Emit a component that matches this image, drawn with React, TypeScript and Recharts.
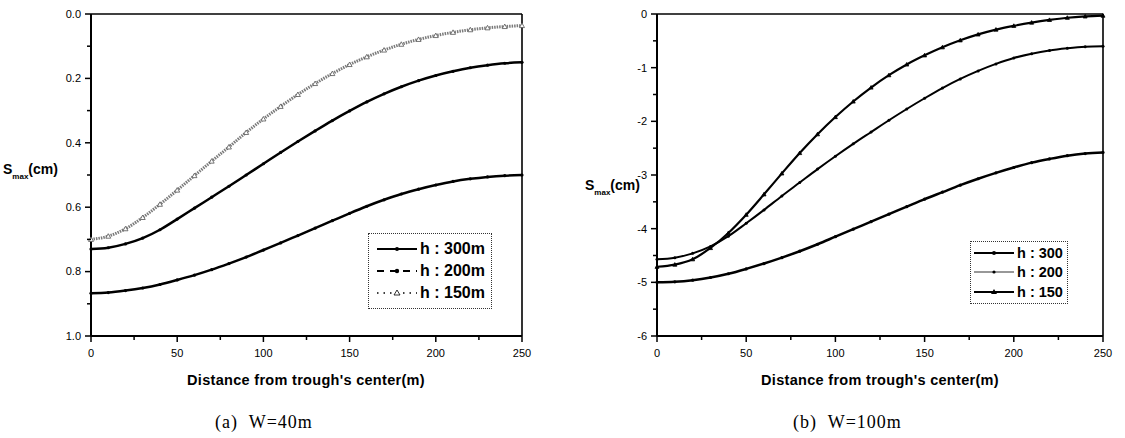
import React from "react";
import { Legend, Line, LineChart, ReferenceLine, XAxis, YAxis } from "recharts";

// distance from trough's center (m)
const DIST = [0, 10, 20, 30, 40, 50, 60, 70, 80, 90, 100, 110, 120, 130, 140, 150, 160, 170, 180, 190, 200, 210, 220, 230, 240, 250];

// (a) W=40m, S_max (cm), axis reversed
const W40_H300 = [0.867, 0.865, 0.859, 0.851, 0.84, 0.826, 0.811, 0.794, 0.775, 0.755, 0.733, 0.711, 0.688, 0.665, 0.642, 0.619, 0.597, 0.577, 0.559, 0.544, 0.531, 0.52, 0.512, 0.506, 0.502, 0.5];
const W40_H200 = [0.73, 0.726, 0.714, 0.696, 0.67, 0.637, 0.603, 0.569, 0.535, 0.5, 0.465, 0.43, 0.396, 0.363, 0.331, 0.301, 0.273, 0.248, 0.226, 0.207, 0.191, 0.178, 0.167, 0.159, 0.153, 0.15];
const W40_H150 = [0.7, 0.69, 0.667, 0.632, 0.591, 0.547, 0.502, 0.457, 0.413, 0.368, 0.326, 0.287, 0.25, 0.216, 0.185, 0.157, 0.133, 0.112, 0.094, 0.079, 0.067, 0.057, 0.049, 0.043, 0.039, 0.036];

// (b) W=100m
const W100_H300 = [-5.0, -4.99, -4.96, -4.91, -4.84, -4.75, -4.65, -4.54, -4.42, -4.29, -4.15, -4.01, -3.87, -3.73, -3.59, -3.45, -3.32, -3.19, -3.07, -2.96, -2.86, -2.77, -2.7, -2.64, -2.6, -2.58];
const W100_H200 = [-4.57, -4.54, -4.46, -4.33, -4.14, -3.9, -3.65, -3.39, -3.14, -2.89, -2.65, -2.42, -2.2, -1.98, -1.77, -1.57, -1.38, -1.21, -1.06, -0.93, -0.82, -0.74, -0.68, -0.64, -0.61, -0.6];
const W100_H150 = [-4.71, -4.67, -4.57, -4.36, -4.08, -3.74, -3.36, -2.97, -2.59, -2.24, -1.92, -1.63, -1.37, -1.14, -0.94, -0.77, -0.62, -0.49, -0.38, -0.29, -0.22, -0.16, -0.11, -0.07, -0.045, -0.03];

const X_TICKS = [0, 25, 50, 75, 100, 125, 150, 175, 200, 225, 250];
const Y_TICKS_A = [0, 0.1, 0.2, 0.3, 0.4, 0.5, 0.6, 0.7, 0.8, 0.9, 1.0];
const Y_TICKS_B = [-6, -5.5, -5, -4.5, -4, -3.5, -3, -2.5, -2, -1.5, -1, -0.5, 0];

const LEGEND_A = ["h : 300m", "h : 200m", "h : 150m"];
const LEGEND_B = ["h : 300", "h : 200", "h : 150"];

const SANS = "'Liberation Sans', Arial, sans-serif";
const TS = 6; // tick size
const TM = 3; // tick margin

const dataA = DIST.map((x, i) => ({ x, h300: W40_H300[i], h200: W40_H200[i], h150: W40_H150[i] }));
const dataB = DIST.map((x, i) => ({ x, h300: W100_H300[i], h200: W100_H200[i], h150: W100_H150[i] }));

function LeftTick({ x, y, payload, major, fmt }: any) {
  const ax = x + TS + TM;
  const v = payload.value;
  const isMajor = major(v);
  return (
    <g>
      <line x1={ax - (isMajor ? 6 : 4)} x2={ax} y1={y} y2={y} stroke="#000" strokeWidth={1.5} />
      {isMajor ? (
        <text x={ax - 10} y={y} dy="0.35em" textAnchor="end" fontSize={11} fontFamily={SANS} fill="#000">
          {fmt(v)}
        </text>
      ) : null}
    </g>
  );
}

function BottomTick({ x, y, payload }: any) {
  const ay = y - TS - TM;
  const v = payload.value;
  const isMajor = v % 50 === 0;
  return (
    <g>
      <line x1={x} x2={x} y1={ay} y2={ay + (isMajor ? 6 : 4)} stroke="#000" strokeWidth={1.5} />
      {isMajor ? (
        <text x={x} y={ay + 17} dy="0.35em" textAnchor="middle" fontSize={11} fontFamily={SANS} fill="#000">
          {v}
        </text>
      ) : null}
    </g>
  );
}

function tri(s: number, fill: string, stroke: string) {
  return (p: any) => {
    const { cx, cy, index } = p;
    if (cx == null || cy == null) return <g key={index} />;
    return (
      <path
        key={index}
        d={`M${cx},${cy - s}L${cx + s},${cy + s * 0.8}L${cx - s},${cy + s * 0.8}Z`}
        fill={fill}
        stroke={stroke}
        strokeWidth={0.8}
      />
    );
  };
}

function Sample({ kind }: { kind: string }) {
  return (
    <svg width={40} height={10} style={{ display: "block" }}>
      {kind === "solid" && (
        <>
          <line x1={0} x2={40} y1={5} y2={5} stroke="#000" strokeWidth={2} />
          <circle cx={20} cy={5} r={2} fill="#000" />
        </>
      )}
      {kind === "dash" && (
        <>
          <line x1={0} x2={40} y1={5} y2={5} stroke="#000" strokeWidth={2} strokeDasharray="7 6" />
          <circle cx={20} cy={5} r={2.2} fill="#000" />
        </>
      )}
      {kind === "dot" && (
        <>
          <line x1={0} x2={40} y1={5} y2={5} stroke="#000" strokeWidth={1.5} strokeDasharray="1.5 5" />
          <path d="M20,2L23,7L17,7Z" fill="#fff" stroke="#000" strokeWidth={0.8} />
        </>
      )}
      {kind === "thin" && (
        <>
          <line x1={0} x2={40} y1={5} y2={5} stroke="#333" strokeWidth={1.2} />
          <circle cx={20} cy={5} r={1.6} fill="#000" />
        </>
      )}
      {kind === "tri" && (
        <>
          <line x1={0} x2={40} y1={5} y2={5} stroke="#000" strokeWidth={2} />
          <path d="M20,2L23,7L17,7Z" fill="#000" />
        </>
      )}
    </svg>
  );
}

function LegendBox({ labels, kinds, rowH, fontSize, pad }: { labels: string[]; kinds: string[]; rowH: number; fontSize: number; pad: string }) {
  return (
    <div style={{ border: "1px dotted #333", background: "#fff", padding: pad }}>
      {labels.map((l, i) => (
        <div key={l} style={{ display: "flex", alignItems: "center", height: rowH }}>
          <Sample kind={kinds[i]} />
          <span style={{ fontFamily: SANS, fontWeight: "bold", fontSize, marginLeft: 3, whiteSpace: "nowrap" }}>{l}</span>
        </div>
      ))}
    </div>
  );
}

function YTitle({ left, top }: { left: number; top: number }) {
  return (
    <div style={{ position: "absolute", left, top, fontFamily: SANS, fontWeight: "bold", fontSize: 14, lineHeight: "16px", whiteSpace: "nowrap" }}>
      S<span style={{ fontSize: 8, position: "relative", top: 5 }}>max</span>(cm)
    </div>
  );
}

function XTitle({ cx, top }: { cx: number; top: number }) {
  return (
    <div
      style={{
        position: "absolute",
        left: cx - 160,
        width: 320,
        top,
        textAlign: "center",
        fontFamily: SANS,
        fontWeight: "bold",
        fontSize: 14.5,
        letterSpacing: 0.3,
        lineHeight: "17px",
      }}
    >
      Distance from trough's center(m)
    </div>
  );
}

function Caption({ left, text }: { left: number; text: string }) {
  return (
    <div style={{ position: "absolute", left, top: 412, fontFamily: "'Liberation Serif', serif", fontSize: 18, letterSpacing: 1, lineHeight: "21px", whiteSpace: "pre" }}>
      {text}
    </div>
  );
}

const frame = { stroke: "#000", strokeWidth: 2 };

export default function App() {
  return (
    <div style={{ position: "absolute", left: 0, top: 0, width: 1125, height: 438, background: "#fff", overflow: "hidden" }}>
      <div style={{ position: "absolute", left: 0, top: 0 }}>
        <LineChart width={540} height={400} data={dataA} margin={{ top: 14, right: 18, left: 51, bottom: 34 }}>
          <XAxis dataKey="x" type="number" domain={[0, 250]} ticks={X_TICKS} interval={0} tick={<BottomTick />} tickLine={false} tickSize={TS} tickMargin={TM} axisLine={frame} height={30} />
          <YAxis
            type="number"
            domain={[0, 1]}
            reversed
            ticks={Y_TICKS_A}
            interval={0}
            tick={<LeftTick major={(v: number) => Math.round(v * 10) % 2 === 0} fmt={(v: number) => v.toFixed(1)} />}
            tickLine={false}
            tickSize={TS}
            tickMargin={TM}
            axisLine={frame}
            width={40}
          />
          <ReferenceLine y={0} stroke="#000" strokeWidth={1.6} />
          <ReferenceLine x={250} stroke="#000" strokeWidth={1.6} />
          <Legend
            layout="vertical"
            align="center"
            verticalAlign="middle"
            wrapperStyle={{ left: 368, top: 233, width: "auto" }}
            content={() => <LegendBox labels={LEGEND_A} kinds={["solid", "dash", "dot"]} rowH={22} fontSize={16} pad="4px 6px 4px 8px" />}
          />
          <Line type="monotone" dataKey="h150" stroke="#7a7a7a" strokeWidth={3} strokeDasharray="1.5 1" dot={tri(2.5, "#fff", "#555")} isAnimationActive={false} />
          <Line type="monotone" dataKey="h200" stroke="#000" strokeWidth={2.5} dot={{ r: 1.6, fill: "#000", stroke: "none" }} isAnimationActive={false} />
          <Line type="monotone" dataKey="h300" stroke="#000" strokeWidth={2.5} dot={{ r: 1.6, fill: "#000", stroke: "none" }} isAnimationActive={false} />
        </LineChart>
      </div>

      <div style={{ position: "absolute", left: 560, top: 0 }}>
        <LineChart width={565} height={400} data={dataB} margin={{ top: 14, right: 22, left: 57, bottom: 34 }}>
          <XAxis dataKey="x" type="number" domain={[0, 250]} ticks={X_TICKS} interval={0} tick={<BottomTick />} tickLine={false} tickSize={TS} tickMargin={TM} axisLine={frame} height={30} />
          <YAxis
            type="number"
            domain={[-6, 0]}
            ticks={Y_TICKS_B}
            interval={0}
            tick={<LeftTick major={(v: number) => Number.isInteger(v)} fmt={(v: number) => String(v)} />}
            tickLine={false}
            tickSize={TS}
            tickMargin={TM}
            axisLine={frame}
            width={40}
          />
          <ReferenceLine y={0} stroke="#000" strokeWidth={1.6} />
          <ReferenceLine x={250} stroke="#000" strokeWidth={1.6} />
          <Legend
            layout="vertical"
            align="center"
            verticalAlign="middle"
            wrapperStyle={{ left: 410, top: 241, width: "auto" }}
            content={() => <LegendBox labels={LEGEND_B} kinds={["solid", "thin", "tri"]} rowH={19.5} fontSize={14.5} pad="1px 4px 1px 3px" />}
          />
          <Line type="monotone" dataKey="h300" stroke="#000" strokeWidth={2.5} dot={{ r: 1.6, fill: "#000", stroke: "none" }} isAnimationActive={false} />
          <Line type="monotone" dataKey="h200" stroke="#000" strokeWidth={2} dot={{ r: 1.5, fill: "#000", stroke: "none" }} isAnimationActive={false} />
          <Line type="monotone" dataKey="h150" stroke="#000" strokeWidth={2.2} dot={tri(2, "#000", "#000")} isAnimationActive={false} />
        </LineChart>
      </div>

      <YTitle left={3} top={161} />
      <YTitle left={585} top={177} />
      <XTitle cx={306} top={372} />
      <XTitle cx={880} top={372} />
      <Caption left={215} text={"(a)  W=40m"} />
      <Caption left={793} text={"(b)  W=100m"} />
    </div>
  );
}
